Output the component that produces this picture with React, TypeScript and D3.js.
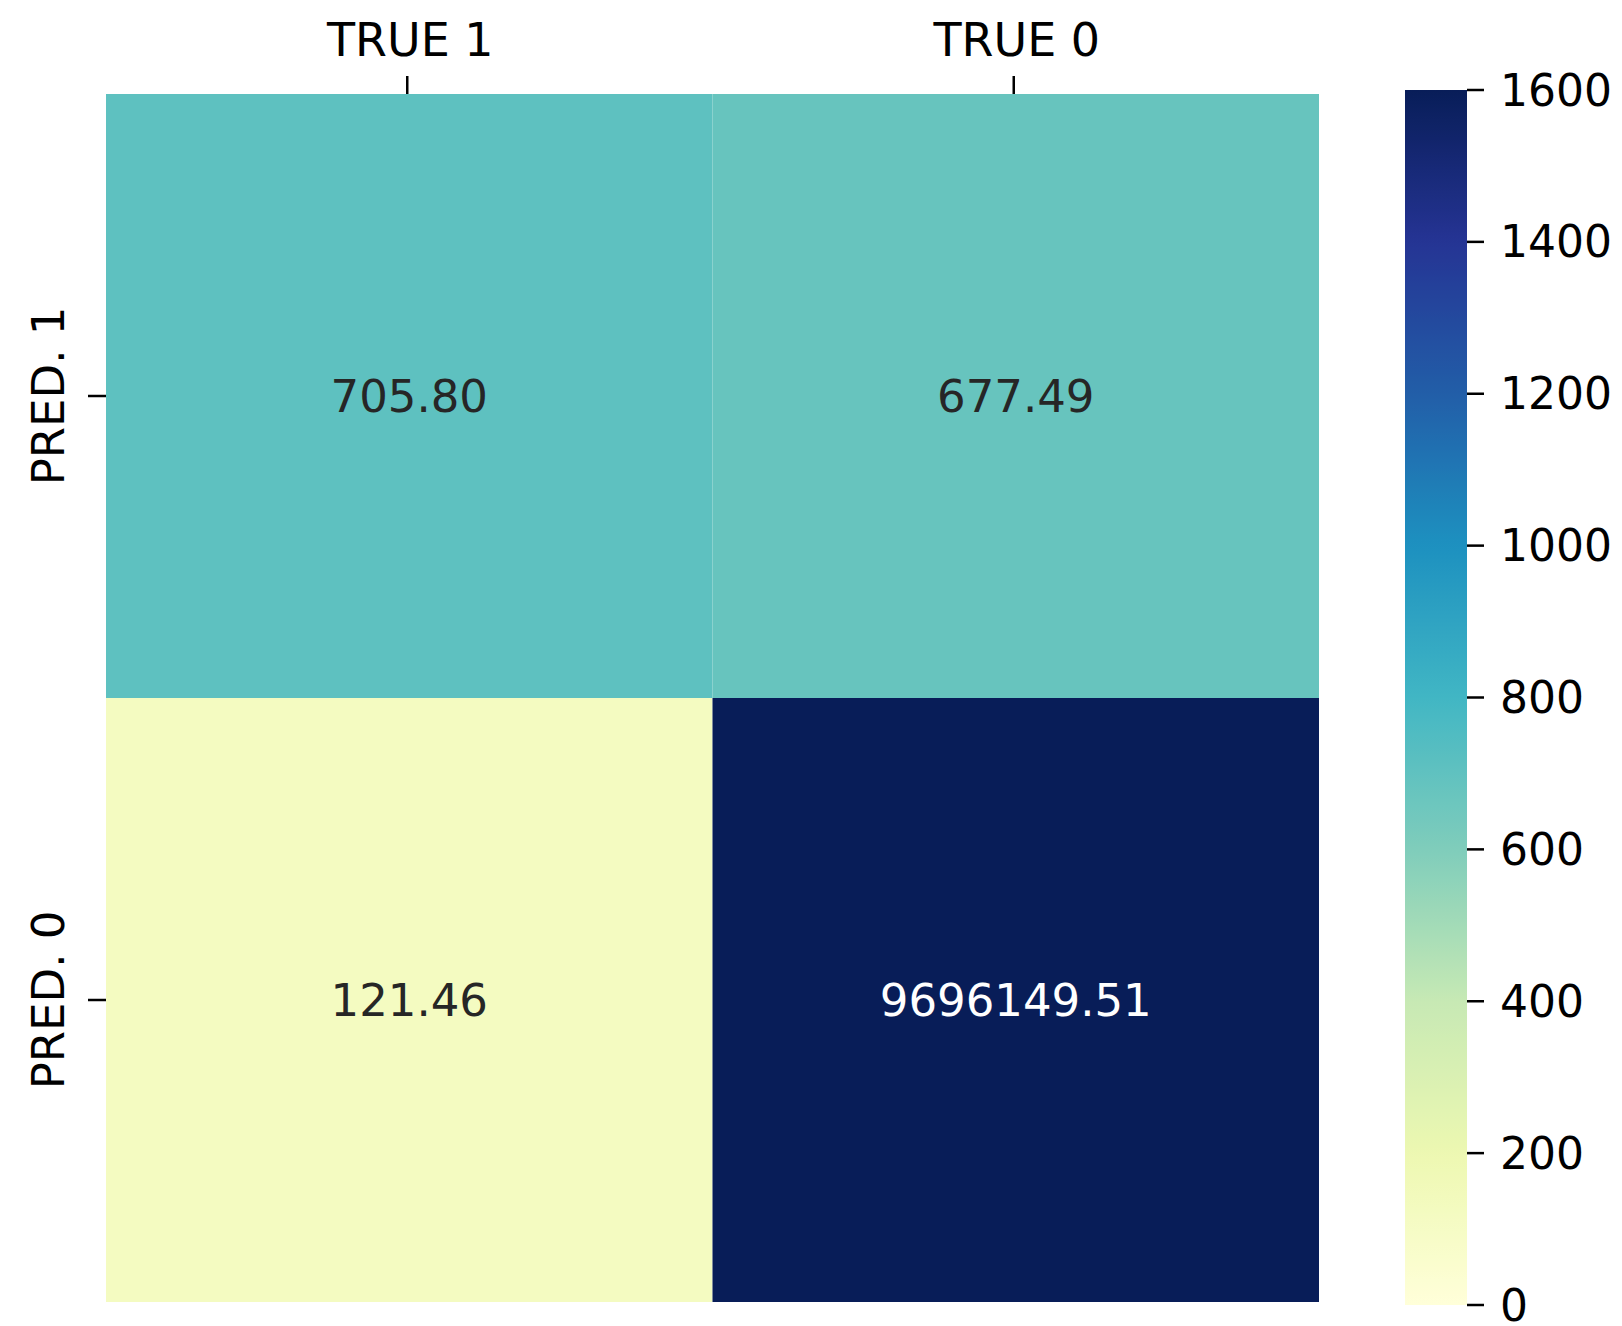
import React from "react";
import * as d3 from "d3";

const colLabels = ["TRUE 1", "TRUE 0"];
const rowLabels = ["PRED. 1", "PRED. 0"];
const cellValues = [
  [705.8, 677.49],
  [121.46, 9696149.51],
];
const cbTicks = [0, 200, 400, 600, 800, 1000, 1200, 1400, 1600];
const ylgnbu = ["#ffffd9", "#edf8b1", "#c7e9b4", "#7fcdbb", "#41b6c4", "#1d91c0", "#225ea8", "#253494", "#081d58"];
const vmin = 0;
const vmax = 1600;

const W = 1622;
const H = 1326;
const FONT = "DejaVu Sans, sans-serif";
const FS = 44;

export default function App() {
  const heatLeft = 106;
  const heatRight = 1319;
  const heatTop = 94;
  const heatBottom = 1302;
  const x = d3.scaleBand<string>().domain(colLabels).range([heatLeft, heatRight]);
  const y = d3.scaleBand<string>().domain(rowLabels).range([heatTop, heatBottom]);

  const color = d3
    .scaleLinear<string>()
    .domain(ylgnbu.map((_, i) => vmin + (i / (ylgnbu.length - 1)) * (vmax - vmin)))
    .range(ylgnbu)
    .interpolate(d3.interpolateRgb)
    .clamp(true);

  const cbLeft = 1405;
  const cbWidth = 62;
  const cbTop = 90;
  const cbBottom = 1305;
  const cbScale = d3.scaleLinear().domain([vmin, vmax]).range([cbBottom, cbTop]);
  const stops = d3.range(0, 101).map((i) => i / 100);

  const textColor = (v: number) => {
    const c = d3.rgb(color(v));
    const lum = (0.299 * c.r + 0.587 * c.g + 0.114 * c.b) / 255;
    return lum > 0.45 ? "#262626" : "#ffffff";
  };

  return (
    <svg width={W} height={H} style={{ display: "block", position: "absolute", left: 0, top: 0 }} fontFamily={FONT}>
      <defs>
        <linearGradient id="cbgrad" x1="0" y1="1" x2="0" y2="0">
          {stops.map((t) => (
            <stop key={t} offset={t} stopColor={color(vmin + t * (vmax - vmin))} />
          ))}
        </linearGradient>
      </defs>
      <rect x={0} y={0} width={W} height={H} fill="#ffffff" />
      {rowLabels.map((r, i) =>
        colLabels.map((c, j) => {
          const v = cellValues[i][j];
          return (
            <g key={`${i}-${j}`}>
              <rect x={x(c)!} y={y(r)!} width={x.bandwidth()} height={y.bandwidth()} fill={color(v)} />
              <text
                x={x(c)! + x.bandwidth() / 2}
                y={y(r)! + y.bandwidth() / 2}
                textAnchor="middle"
                dominantBaseline="central"
                fontSize={FS + 1}
                fill={textColor(v)}
              >
                {v.toFixed(2)}
              </text>
            </g>
          );
        })
      )}
      {colLabels.map((c) => {
        const cx = x(c)! + x.bandwidth() / 2 - 2;
        return (
          <g key={c}>
            <line x1={cx} x2={cx} y1={heatTop} y2={heatTop - 18} stroke="#000" strokeWidth={2.5} />
            <text x={cx + 3} y={56} textAnchor="middle" fontSize={FS + 2} fill="#000">
              {c}
            </text>
          </g>
        );
      })}
      {rowLabels.map((r) => {
        const cy = y(r)! + y.bandwidth() / 2;
        return (
          <g key={r}>
            <line x1={heatLeft} x2={heatLeft - 18} y1={cy} y2={cy} stroke="#000" strokeWidth={2.5} />
            <text transform={`translate(64,${cy}) rotate(-90)`} textAnchor="middle" fontSize={FS + 1} fill="#000">
              {r}
            </text>
          </g>
        );
      })}
      <rect x={cbLeft} y={cbTop} width={cbWidth} height={cbBottom - cbTop} fill="url(#cbgrad)" />
      {cbTicks.map((t) => (
        <g key={t}>
          <line x1={cbLeft + cbWidth} x2={cbLeft + cbWidth + 17} y1={cbScale(t)} y2={cbScale(t)} stroke="#000" strokeWidth={2.5} />
          <text x={cbLeft + cbWidth + 33} y={cbScale(t)} dominantBaseline="central" fontSize={FS} fill="#000">
            {t}
          </text>
        </g>
      ))}
    </svg>
  );
}
